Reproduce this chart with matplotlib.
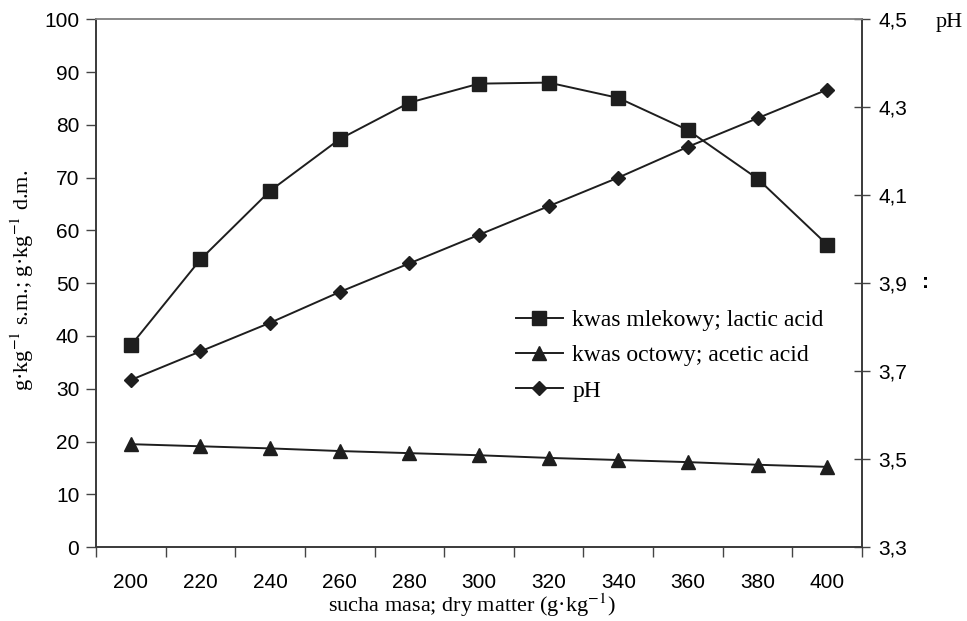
import matplotlib
matplotlib.use("Agg")
import matplotlib.pyplot as plt
import numpy as np

# data
dry_matter = [200, 220, 240, 260, 280, 300, 320, 340, 360, 380, 400]
lactic_acid = [38.2, 54.5, 67.5, 77.3, 84.2, 87.8, 88.0, 85.1, 79.0, 69.8, 57.3]
acetic_acid = [19.5, 19.1, 18.7, 18.2, 17.8, 17.4, 16.9, 16.5, 16.1, 15.6, 15.2]
ph_values = [3.68, 3.745, 3.81, 3.88, 3.945, 4.01, 4.075, 4.14, 4.21, 4.275, 4.34]

left_ticks = list(range(0, 101, 10))
right_ticks = [3.3, 3.5, 3.7, 3.9, 4.1, 4.3, 4.5]

plt.rcParams["mathtext.fontset"] = "stix"
sans = "Liberation Sans"
serif = "Liberation Serif"
ink = "#1e1e1e"
tick_fs = 15
label_fs = 16

fig = plt.figure(figsize=(9.67, 6.21), dpi=100)
ax = fig.add_axes([0.0993, 0.119, 0.7921, 0.850])
ax2 = ax.twinx()

pos = np.arange(len(dry_matter))

l1, = ax.plot(pos, lactic_acid, color=ink, lw=1.4, marker="s", ms=9.5, label="kwas mlekowy; lactic acid")
l2, = ax.plot(pos, acetic_acid, color=ink, lw=1.4, marker="^", ms=9.5, label="kwas octowy; acetic acid")
l3, = ax2.plot(pos, ph_values, color=ink, lw=1.4, marker="D", ms=7.5, label="pH")

ax.set_xlim(-0.5, len(dry_matter) - 0.5)
ax.set_ylim(0, 100)
ax2.set_ylim(3.3, 4.5)

# tick marks at category boundaries, labels at centres
ax.set_xticks(np.arange(-0.5, len(dry_matter), 1.0))
ax.set_xticklabels([])
ax.set_xticks(pos, minor=True)
ax.set_xticklabels([str(v) for v in dry_matter], minor=True, fontfamily=sans, fontsize=tick_fs)
ax.tick_params(axis="x", which="major", direction="out", length=7, width=1, color="#444444")
ax.tick_params(axis="x", which="minor", length=0, pad=19)

ax.set_yticks(left_ticks)
ax.set_yticklabels([str(v) for v in left_ticks], fontfamily=sans, fontsize=tick_fs)
ax.tick_params(axis="y", direction="out", length=7, width=1, color="#444444", pad=5)

ax2.set_yticks(right_ticks)
ax2.set_yticklabels([f"{v:.1f}".replace(".", ",") for v in right_ticks], fontfamily=sans, fontsize=tick_fs)
ax2.tick_params(axis="y", direction="inout", length=12, width=1, color="#444444", pad=6)

for a in (ax, ax2):
    for s in a.spines.values():
        s.set_linewidth(1.2)
        s.set_color("#3a3a3a")
ax.spines["top"].set_color("#888888")
ax2.spines["top"].set_color("#888888")

ax.set_xlabel("sucha masa; dry matter (g·kg$^{-1}$)", fontfamily=serif, fontsize=label_fs)
ax.xaxis.set_label_coords(0.491, -0.085)
ax.set_ylabel("g·kg$^{-1}$ s.m.; g·kg$^{-1}$ d.m.", fontfamily=serif, fontsize=label_fs)
ax.yaxis.set_label_coords(-0.079, 0.505)

fig.text(0.982, 0.963, "pH", fontfamily=serif, fontsize=label_fs, ha="center", va="center")
fig.text(0.957, 0.545, ":", fontfamily=sans, fontsize=15, fontweight="bold", ha="center", va="center")

leg = ax.legend(handles=[l1, l2, l3], loc="upper left", bbox_to_anchor=(0.52, 0.49),
                frameon=False, prop={"family": serif, "size": 17},
                handlelength=2.0, handletextpad=0.4, labelspacing=0.58)

fig.savefig("out.png", dpi=100)
